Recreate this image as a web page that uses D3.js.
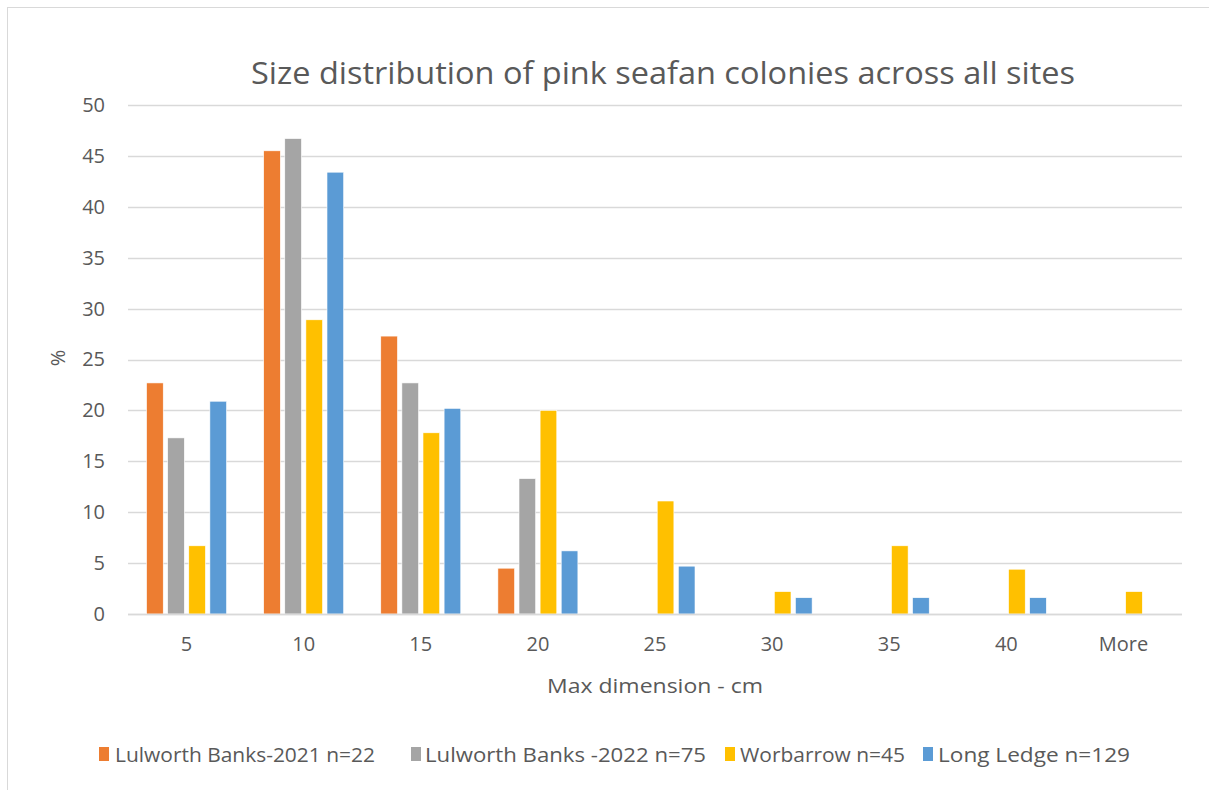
<!DOCTYPE html>
<html>
<head>
<meta charset="utf-8">
<script src="https://cdn.jsdelivr.net/npm/d3@7"></script>
<style>
  html, body { margin: 0; padding: 0; background: #fff; }
  svg { display: block; font-family: "Open Sans", "Noto Sans", sans-serif; }
</style>
</head>
<body>
<svg id="chart" width="1209" height="790"></svg>
<script>
// Size classes (max dimension, cm)
const categories = ["5", "10", "15", "20", "25", "30", "35", "40", "More"];

// Percentage of colonies in each size class, per site
const lulworth2021 = [22.7, 45.5, 27.3, 4.5, 0, 0, 0, 0, 0];
const lulworth2022 = [17.3, 46.7, 22.7, 13.3, 0, 0, 0, 0, 0];
const worbarrow    = [6.7, 28.9, 17.8, 20.0, 11.1, 2.2, 6.7, 4.4, 2.2];
const longLedge    = [20.9, 43.4, 20.2, 6.2, 4.7, 1.6, 1.6, 1.6, 0];

const seriesNames = [
  "Lulworth Banks-2021 n=22",
  "Lulworth Banks -2022 n=75",
  "Worbarrow n=45",
  "Long Ledge n=129"
];
const seriesColors = ["#ED7D31", "#A5A5A5", "#FFC000", "#5B9BD5"];
const yTicks = [0, 5, 10, 15, 20, 25, 30, 35, 40, 45, 50];

const seriesValues = [lulworth2021, lulworth2022, worbarrow, longLedge];
const series = seriesNames.map((name, i) => ({
  name, color: seriesColors[i], values: seriesValues[i]
}));

const svg = d3.select("#chart");
const textColor = "#595959";
const gridColor = "#D9D9D9";

// chart frame
svg.append("rect")
  .attr("x", 7.5).attr("y", 7.5)
  .attr("width", 1400).attr("height", 1000)
  .attr("fill", "none").attr("stroke", gridColor).attr("stroke-width", 1);

const plot = { left: 128, right: 1182, top: 105, bottom: 614 };

const x0 = d3.scaleBand()
  .domain(categories)
  .range([plot.left, plot.right])
  .paddingInner(0).paddingOuter(0);

const groupWidth = 80;
const x1 = d3.scaleBand()
  .domain(seriesNames)
  .range([0, groupWidth])
  .paddingInner(0.21).paddingOuter(0);

const y = d3.scaleLinear().domain([0, 50]).range([plot.bottom, plot.top]);

// horizontal gridlines
svg.append("g")
  .selectAll("line")
  .data(yTicks)
  .join("line")
  .attr("x1", plot.left).attr("x2", plot.right)
  .attr("y1", d => Math.round(y(d)) + 0.5).attr("y2", d => Math.round(y(d)) + 0.5)
  .attr("stroke", gridColor).attr("stroke-width", 1.3);

// y axis labels
const yAxis = d3.axisLeft(y).tickValues(yTicks).tickSize(0).tickPadding(0);
const yg = svg.append("g")
  .attr("transform", `translate(${plot.left - 23},0)`)
  .call(yAxis);
yg.select(".domain").remove();
yg.selectAll("text")
  .attr("fill", textColor)
  .style("font-size", "20px")
  .style("font-family", "'Open Sans', sans-serif");

// bars
const groups = svg.append("g")
  .selectAll("g")
  .data(categories)
  .join("g")
  .attr("transform", d => `translate(${x0(d) + x0.bandwidth() / 2 - groupWidth / 2},0)`);

groups.selectAll("rect")
  .data((c, ci) => series.map(s => ({ name: s.name, color: s.color, value: s.values[ci] })))
  .join("rect")
  .attr("x", d => x1(d.name))
  .attr("width", x1.bandwidth())
  .attr("y", d => y(d.value))
  .attr("height", d => y(0) - y(d.value))
  .attr("fill", d => d.color)
  .attr("stroke", "#fff")
  .attr("stroke-width", 0.6);

// baseline
svg.append("line")
  .attr("x1", plot.left).attr("x2", plot.right)
  .attr("y1", Math.round(y(0)) + 0.5).attr("y2", Math.round(y(0)) + 0.5)
  .attr("stroke", gridColor).attr("stroke-width", 1.5);

// x axis labels
const xAxis = d3.axisBottom(x0).tickSize(0).tickPadding(0);
const xg = svg.append("g")
  .attr("transform", `translate(0,${plot.bottom + 23})`)
  .call(xAxis);
xg.select(".domain").remove();
xg.selectAll("text")
  .attr("fill", textColor)
  .style("font-size", "20px")
  .style("font-family", "'Open Sans', sans-serif");

// title
svg.append("text")
  .attr("x", 663).attr("y", 84)
  .attr("text-anchor", "middle")
  .attr("fill", textColor)
  .style("font-size", "31px")
  .attr("textLength", 824)
  .attr("lengthAdjust", "spacingAndGlyphs")
  .text("Size distribution of pink seafan colonies across all sites");

// axis titles
svg.append("text")
  .attr("x", 655).attr("y", 693)
  .attr("text-anchor", "middle")
  .attr("fill", textColor)
  .style("font-size", "20px")
  .attr("textLength", 216)
  .attr("lengthAdjust", "spacingAndGlyphs")
  .text("Max dimension - cm");

svg.append("text")
  .attr("transform", "translate(65,358) rotate(-90)")
  .attr("text-anchor", "middle")
  .attr("fill", textColor)
  .style("font-size", "20px")
  .text("%");

// legend
const legendItems = [
  { sx: 99, tx: 115, w: 260 },
  { sx: 411, tx: 425, w: 281 },
  { sx: 725, tx: 740, w: 165 },
  { sx: 923, tx: 938, w: 192 }
];
const legend = svg.append("g")
  .selectAll("g")
  .data(series)
  .join("g");
legend.append("rect")
  .attr("x", (d, i) => legendItems[i].sx)
  .attr("y", 747)
  .attr("width", 10).attr("height", 14)
  .attr("fill", d => d.color);
legend.append("text")
  .attr("x", (d, i) => legendItems[i].tx)
  .attr("y", 762)
  .attr("fill", textColor)
  .style("font-size", "20px")
  .attr("textLength", (d, i) => legendItems[i].w)
  .attr("lengthAdjust", "spacingAndGlyphs")
  .text(d => d.name);
</script>
</body>
</html>
